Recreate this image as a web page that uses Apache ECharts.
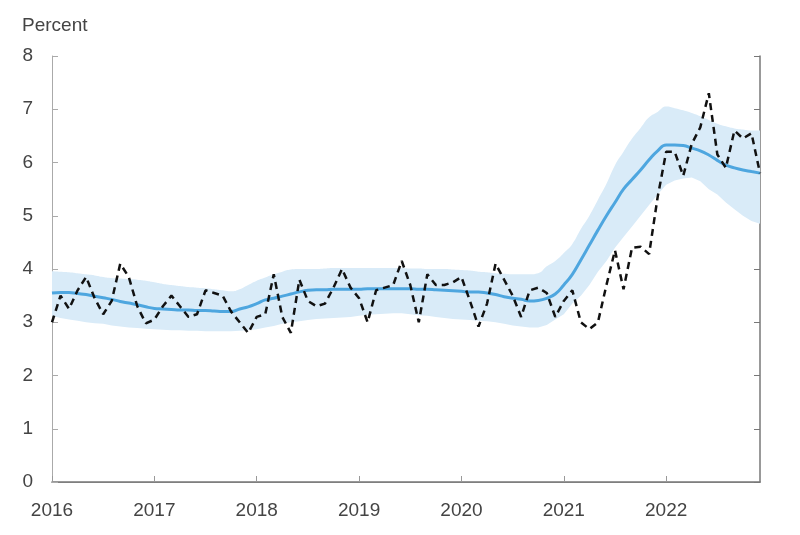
<!DOCTYPE html>
<html>
<head>
<meta charset="utf-8">
<script src="https://cdn.jsdelivr.net/npm/echarts@6/dist/echarts.min.js"></script>
<style>
  html, body { margin: 0; padding: 0; background: #fff; }
  #main { width: 800px; height: 535px; }
</style>
</head>
<body>
<div id="main"></div>
<script>
// monthly, Jan 2016 .. Dec 2022
var years = ['2016', '2017', '2018', '2019', '2020', '2021', '2022'];

// actual (dashed black)
var actual = [
  3.0, 3.5, 3.25, 3.6, 3.85, 3.45, 3.15, 3.4, 4.1, 3.85, 3.3, 2.98,
  3.05, 3.3, 3.5, 3.3, 3.1, 3.15, 3.6, 3.55, 3.5, 3.2, 3.0, 2.8,
  3.1, 3.15, 3.9, 3.1, 2.8, 3.8, 3.4, 3.3, 3.35, 3.65, 4.0, 3.65,
  3.45, 3.0, 3.6, 3.65, 3.7, 4.15, 3.7, 3.0, 3.9, 3.7, 3.7, 3.75,
  3.85, 3.4, 2.92, 3.35, 4.1, 3.8, 3.5, 3.1, 3.6, 3.65, 3.55, 3.1,
  3.4, 3.6, 3.0, 2.87, 3.0, 3.7, 4.35, 3.62, 4.4, 4.42, 4.28, 5.35,
  6.2, 6.2, 5.75, 6.35, 6.66, 7.3, 6.15, 5.9, 6.6, 6.45, 6.55, 5.8
];

// trend (solid blue)
var trend = [
  3.55, 3.56, 3.56, 3.54, 3.52, 3.49, 3.46, 3.43, 3.39, 3.36, 3.33, 3.29,
  3.26, 3.25, 3.24, 3.23, 3.23, 3.22, 3.22, 3.21, 3.2, 3.2, 3.25, 3.29,
  3.35, 3.42, 3.45, 3.49, 3.53, 3.57, 3.6, 3.61, 3.61, 3.62, 3.62, 3.62,
  3.62, 3.63, 3.63, 3.63, 3.63, 3.63, 3.63, 3.62, 3.62, 3.61, 3.6, 3.59,
  3.58, 3.57, 3.57, 3.55, 3.52, 3.48, 3.45, 3.43, 3.4, 3.41, 3.45, 3.53,
  3.7, 3.9, 4.17, 4.45, 4.73, 5.0, 5.25, 5.5, 5.68, 5.86, 6.05, 6.22,
  6.33, 6.33, 6.32, 6.27, 6.22, 6.14, 6.04, 5.95, 5.9, 5.86, 5.83, 5.8
];

// band edges (light blue)
var upper = [
  3.96, 3.95, 3.94, 3.92, 3.9, 3.88, 3.85, 3.83, 3.82, 3.81, 3.8, 3.78,
  3.75, 3.72, 3.7, 3.68, 3.66, 3.65, 3.64, 3.62, 3.6, 3.58, 3.62, 3.7,
  3.78, 3.84, 3.9, 3.95, 3.99, 4.0, 4.0, 4.0, 4.01, 4.02, 4.02, 4.02,
  4.02, 4.02, 4.02, 4.02, 4.02, 4.02, 4.01, 4.01, 4.0, 4.0, 4.0, 3.99,
  3.98, 3.97, 3.95, 3.94, 3.92, 3.91, 3.9, 3.9, 3.9, 3.92, 4.05, 4.15,
  4.3, 4.47, 4.75, 5.0, 5.3, 5.6, 5.95, 6.2, 6.45, 6.65, 6.85, 6.95,
  7.05, 7.02, 6.98, 6.93, 6.87, 6.8, 6.73, 6.68, 6.64, 6.62, 6.6, 6.6
];
var lower = [
  3.12, 3.08, 3.05, 3.03, 3.0, 2.98, 2.97, 2.94, 2.92, 2.9, 2.89, 2.88,
  2.87, 2.86, 2.85, 2.85, 2.84, 2.84, 2.83, 2.83, 2.83, 2.83, 2.84, 2.85,
  2.87, 2.9, 2.93, 2.97, 3.0, 3.02, 3.04, 3.06, 3.07, 3.08, 3.09, 3.1,
  3.12, 3.14, 3.15, 3.16, 3.17, 3.17, 3.15, 3.13, 3.12, 3.1, 3.08, 3.06,
  3.05, 3.04, 3.03, 3.02, 3.0, 2.97, 2.94, 2.92, 2.9, 2.9, 2.95, 3.05,
  3.15, 3.35, 3.5, 3.7, 3.95, 4.15, 4.4, 4.6, 4.8, 5.0, 5.2, 5.4,
  5.58, 5.66, 5.7, 5.72, 5.65, 5.5, 5.4, 5.25, 5.12, 5.0, 4.9, 4.85
];

var months = [];
for (var y = 0; y < years.length; y++) {
  for (var m = 1; m <= 12; m++) {
    months.push(years[y] + '-' + (m < 10 ? '0' + m : m));
  }
}
var bandWidth = [];
for (var i = 0; i < upper.length; i++) {
  bandWidth.push(+(upper[i] - lower[i]).toFixed(2));
}

var yearStart = function (index) { return index % 12 === 0; };

var myChart = echarts.init(document.getElementById('main'));
var option = {
  animation: false,
  textStyle: { fontFamily: 'Liberation Sans, Arial, sans-serif' },
  title: {
    text: 'Percent',
    left: 17,
    top: 11,
    textStyle: { fontSize: 19, fontWeight: 'normal', color: '#444' }
  },
  grid: { left: 52, right: 40, top: 56, bottom: 53 },
  xAxis: [{
    type: 'category',
    data: months,
    boundaryGap: false,
    axisLine: { lineStyle: { color: '#999', width: 1 } },
    axisTick: { inside: true, length: 6, interval: yearStart, lineStyle: { color: '#999' } },
    axisLabel: {
      interval: yearStart,
      margin: 19,
      fontSize: 19,
      color: '#444',
      formatter: function (v) { return v.slice(0, 4); }
    },
    splitLine: { show: false }
  }, {
    type: 'category',
    position: 'top',
    data: months,
    boundaryGap: false,
    axisLine: { lineStyle: { color: '#777', width: 1.5 } },
    axisTick: { show: false },
    axisLabel: { show: false }
  }],
  yAxis: [{
    type: 'value',
    min: 0,
    max: 8,
    interval: 1,
    axisLine: { show: true, lineStyle: { color: '#aaa', width: 1 } },
    axisTick: { show: true, inside: true, length: 6, lineStyle: { color: '#aaa' } },
    axisLabel: { fontSize: 19, color: '#444', margin: 19 },
    splitLine: { show: false }
  }, {
    type: 'value',
    position: 'right',
    min: 0,
    max: 8,
    interval: 1,
    axisLine: { show: true, lineStyle: { color: '#777', width: 1.5 } },
    axisTick: { show: true, inside: true, length: 6, lineStyle: { color: '#777' } },
    axisLabel: { show: false },
    splitLine: { show: false }
  }],
  series: [{
    name: 'lower',
    type: 'line',
    data: lower,
    stack: 'band',
    symbol: 'none',
    lineStyle: { opacity: 0 },
    silent: true
  }, {
    name: 'band',
    type: 'line',
    data: bandWidth,
    stack: 'band',
    symbol: 'none',
    smooth: true,
    lineStyle: { opacity: 0 },
    areaStyle: { color: '#d9ebf8', opacity: 1 },
    silent: true
  }, {
    name: 'trend',
    type: 'line',
    data: trend,
    symbol: 'none',
    smooth: true,
    lineStyle: { color: '#4ea6df', width: 3 }
  }, {
    name: 'actual',
    type: 'line',
    data: actual,
    symbol: 'none',
    lineStyle: { color: '#111', width: 2.5, type: [7, 5] }
  }]
};
myChart.setOption(option);
</script>
</body>
</html>
